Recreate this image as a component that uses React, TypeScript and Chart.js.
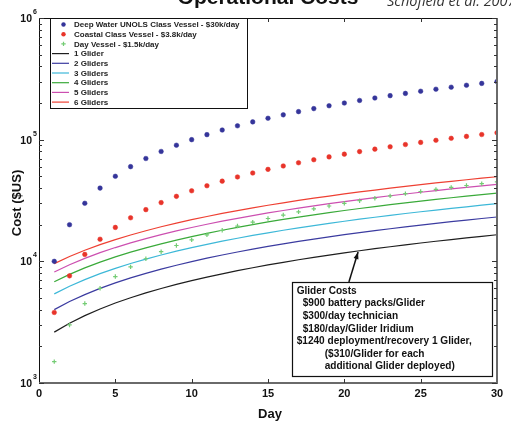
import React, { useEffect, useRef } from "react";
import { Chart, registerables } from "chart.js";
Chart.register(...registerables);

const days = [1, 2, 3, 4, 5, 6, 7, 8, 9, 10, 11, 12, 13, 14, 15, 16, 17, 18, 19, 20, 21, 22, 23, 24, 25, 26, 27, 28, 29, 30];
const deepWater = [10000, 20000, 30000, 40000, 50000, 60000, 70000, 80000, 90000, 100000, 110000, 120000, 130000, 140000, 150000, 160000, 170000, 180000, 190000, 200000, 210000, 220000, 230000, 240000, 250000, 260000, 270000, 280000, 290000, 300000];
const coastal = [3800, 7600, 11400, 15200, 19000, 22800, 26600, 30400, 34200, 38000, 41800, 45600, 49400, 53200, 57000, 60800, 64600, 68400, 72200, 76000, 79800, 83600, 87400, 91200, 95000, 98800, 102600, 106400, 110200, 114000];
const dayVessel = [1500, 3000, 4500, 6000, 7500, 9000, 10500, 12000, 13500, 15000, 16500, 18000, 19500, 21000, 22500, 24000, 25500, 27000, 28500, 30000, 31500, 33000, 34500, 36000, 37500, 39000, 40500, 42000, 43500, 45000];
const glider1 = [2620, 3100, 3580, 4060, 4540, 5020, 5500, 5980, 6460, 6940, 7420, 7900, 8380, 8860, 9340, 9820, 10300, 10780, 11260, 11740, 12220, 12700, 13180, 13660, 14140, 14620, 15100, 15580, 16060, 16540];
const glider2 = [4010, 4670, 5330, 5990, 6650, 7310, 7970, 8630, 9290, 9950, 10610, 11270, 11930, 12590, 13250, 13910, 14570, 15230, 15890, 16550, 17210, 17870, 18530, 19190, 19850, 20510, 21170, 21830, 22490, 23150];
const glider3 = [5400, 6240, 7080, 7920, 8760, 9600, 10440, 11280, 12120, 12960, 13800, 14640, 15480, 16320, 17160, 18000, 18840, 19680, 20520, 21360, 22200, 23040, 23880, 24720, 25560, 26400, 27240, 28080, 28920, 29760];
const glider4 = [6790, 7810, 8830, 9850, 10870, 11890, 12910, 13930, 14950, 15970, 16990, 18010, 19030, 20050, 21070, 22090, 23110, 24130, 25150, 26170, 27190, 28210, 29230, 30250, 31270, 32290, 33310, 34330, 35350, 36370];
const glider5 = [8180, 9380, 10580, 11780, 12980, 14180, 15380, 16580, 17780, 18980, 20180, 21380, 22580, 23780, 24980, 26180, 27380, 28580, 29780, 30980, 32180, 33380, 34580, 35780, 36980, 38180, 39380, 40580, 41780, 42980];
const glider6 = [9570, 10950, 12330, 13710, 15090, 16470, 17850, 19230, 20610, 21990, 23370, 24750, 26130, 27510, 28890, 30270, 31650, 33030, 34410, 35790, 37170, 38550, 39930, 41310, 42690, 44070, 45450, 46830, 48210, 49590];

const pointLabels = ["Deep Water UNOLS Class Vessel - $30k/day", "Coastal Class Vessel - $3.8k/day", "Day Vessel - $1.5k/day"];
const lineLabels = ["1 Glider", "2 Gliders", "3 Gliders", "4 Gliders", "5 Gliders", "6 Gliders"];
const xTicks = [0, 5, 10, 15, 20, 25, 30];
const yExponents = [3, 4, 5, 6];
const noteLines: [number, string][] = [
  [0, "Glider Costs"],
  [6, "$900 battery packs/Glider"],
  [6, "$300/day technician"],
  [6, "$180/day/Glider Iridium"],
  [0, "$1240 deployment/recovery 1 Glider,"],
  [28, "($310/Glider for each"],
  [28, "additional Glider deployed)"],
];

const pointColors = ["#35359a", "#e8342a", "#74cc74"];
const lineColors = ["#1e1e1e", "#3b3ba0", "#3db8d8", "#3aaa3a", "#cc4fb0", "#ee4033"];

const FONT = '"Liberation Sans", Arial, sans-serif';

const decor = {
  id: "decor",
  afterDatasetsDraw(chart: any) {
    const { ctx, chartArea: a, scales } = chart;
    const x = scales.x, y = scales.y;
    ctx.save();
    // frame
    ctx.lineWidth = 1;
    ctx.strokeStyle = "#111";
    ctx.beginPath();
    ctx.moveTo(a.left + 0.5, a.bottom);
    ctx.lineTo(a.left + 0.5, a.top + 0.5);
    ctx.lineTo(a.right, a.top + 0.5);
    ctx.stroke();
    ctx.strokeStyle = "#6a6a6a";
    ctx.lineWidth = 2;
    ctx.beginPath();
    ctx.moveTo(a.left, a.bottom);
    ctx.lineTo(a.right, a.bottom);
    ctx.lineTo(a.right, a.top);
    ctx.stroke();

    // x ticks
    ctx.lineWidth = 1;
    ctx.strokeStyle = "#333";
    ctx.fillStyle = "#111";
    ctx.font = `bold 11px ${FONT}`;
    ctx.textAlign = "center";
    ctx.textBaseline = "middle";
    for (const t of xTicks) {
      const px = Math.round(x.getPixelForValue(t)) + 0.5;
      if (t !== 0 && t !== 30) {
        ctx.beginPath();
        ctx.moveTo(px, a.bottom);
        ctx.lineTo(px, a.bottom - 4);
        ctx.moveTo(px, a.top);
        ctx.lineTo(px, a.top + 4);
        ctx.stroke();
      }
      ctx.fillText(String(t), x.getPixelForValue(t), a.bottom + 11);
    }
    // y ticks
    for (let e = 3; e <= 6; e++) {
      for (let m = 1; m <= 9; m++) {
        if (e === 6 && m > 1) break;
        const py = Math.round(y.getPixelForValue(m * Math.pow(10, e))) + 0.5;
        const len = m === 1 ? 5 : 3;
        ctx.beginPath();
        ctx.moveTo(a.left, py);
        ctx.lineTo(a.left + len, py);
        ctx.moveTo(a.right, py);
        ctx.lineTo(a.right - len, py);
        ctx.stroke();
      }
    }
    for (const e of yExponents) {
      const py = y.getPixelForValue(Math.pow(10, e));
      ctx.font = `bold 10.5px ${FONT}`;
      ctx.textAlign = "right";
      ctx.textBaseline = "middle";
      ctx.fillText("10", a.left - 7, py + 1);
      ctx.font = `bold 7px ${FONT}`;
      ctx.textAlign = "left";
      ctx.fillText(String(e), a.left - 6, py - 6);
    }
    // axis titles
    ctx.font = `bold 13px ${FONT}`;
    ctx.textAlign = "center";
    ctx.textBaseline = "middle";
    ctx.fillText("Day", (a.left + a.right) / 2 + 2, a.bottom + 31);
    ctx.save();
    ctx.translate(17, 203);
    ctx.rotate(-Math.PI / 2);
    ctx.fillText("Cost ($US)", 0, 0);
    ctx.restore();

    // title and citation
    ctx.font = `bold 21px ${FONT}`;
    ctx.textAlign = "center";
    ctx.textBaseline = "alphabetic";
    ctx.fillText("Operational Costs", (a.left + a.right) / 2, 4);
    ctx.font = `italic 14.5px "Open Sans", ${FONT}`;
    ctx.textAlign = "left";
    ctx.fillStyle = "#333";
    ctx.fillText("Schofield et al. 2007", 387, 6);

    // legend
    const lx = 50.5, ly = a.top + 0.5, lw = 197, lh = 90;
    ctx.fillStyle = "#fff";
    ctx.fillRect(lx, ly, lw, lh);
    ctx.strokeStyle = "#111";
    ctx.lineWidth = 1;
    ctx.strokeRect(lx, ly, lw, lh);
    ctx.font = `bold 8px ${FONT}`;
    ctx.textAlign = "left";
    ctx.textBaseline = "middle";
    const rowY = (i: number) => ly + 6 + i * 9.7;
    pointLabels.forEach((lab, i) => {
      const cy = rowY(i);
      ctx.fillStyle = pointColors[i];
      if (i < 2) {
        ctx.beginPath();
        ctx.arc(63.5, cy, 2.2, 0, Math.PI * 2);
        ctx.fill();
      } else {
        ctx.strokeStyle = pointColors[i];
        ctx.lineWidth = 1.2;
        ctx.beginPath();
        ctx.moveTo(61.3, cy); ctx.lineTo(65.7, cy);
        ctx.moveTo(63.5, cy - 2.2); ctx.lineTo(63.5, cy + 2.2);
        ctx.stroke();
      }
      ctx.fillStyle = "#222";
      ctx.fillText(lab, 74, cy + 0.5);
    });
    lineLabels.forEach((lab, j) => {
      const cy = rowY(j + 3);
      ctx.strokeStyle = lineColors[j];
      ctx.lineWidth = 1.2;
      ctx.beginPath();
      ctx.moveTo(52, cy); ctx.lineTo(69, cy);
      ctx.stroke();
      ctx.fillStyle = "#222";
      ctx.fillText(lab, 74, cy + 0.5);
    });

    // note box
    const bx = x.getPixelForValue(16.55), bx2 = x.getPixelForValue(29.65);
    const by = y.getPixelForValue(6760), by2 = y.getPixelForValue(1140);
    // arrow
    const tx = x.getPixelForValue(20.3), ty = by;
    const hx = x.getPixelForValue(20.9), hy = y.getPixelForValue(11940);
    ctx.strokeStyle = "#111";
    ctx.fillStyle = "#111";
    ctx.lineWidth = 1.5;
    ctx.beginPath();
    ctx.moveTo(tx, ty);
    ctx.lineTo(hx, hy);
    ctx.stroke();
    const ang = Math.atan2(hy - ty, hx - tx);
    ctx.beginPath();
    ctx.moveTo(hx, hy);
    ctx.lineTo(hx - 7 * Math.cos(ang) + 2.5 * Math.sin(ang), hy - 7 * Math.sin(ang) - 2.5 * Math.cos(ang));
    ctx.lineTo(hx - 7 * Math.cos(ang) - 2.5 * Math.sin(ang), hy - 7 * Math.sin(ang) + 2.5 * Math.cos(ang));
    ctx.closePath();
    ctx.fill();

    ctx.fillStyle = "#fff";
    ctx.fillRect(bx, by, bx2 - bx, by2 - by);
    ctx.strokeStyle = "#111";
    ctx.lineWidth = 1.2;
    ctx.strokeRect(Math.round(bx) + 0.5, Math.round(by) + 0.5, Math.round(bx2 - bx), Math.round(by2 - by));
    ctx.fillStyle = "#111";
    ctx.font = `bold 10.1px ${FONT}`;
    ctx.textAlign = "left";
    ctx.textBaseline = "middle";
    noteLines.forEach(([ind, txt], i) => {
      ctx.fillText(txt, bx + 5 + ind, by + 9 + i * 12.6);
    });
    ctx.restore();
  },
};

export default function App() {
  const ref = useRef<HTMLCanvasElement>(null);
  useEffect(() => {
    document.body.style.margin = "0";
    const pts = (vals: number[]) => days.map((d, i) => ({ x: d, y: vals[i] }));
    const pointSets = [deepWater, coastal, dayVessel].map((vals, i) => ({
      label: pointLabels[i],
      data: pts(vals),
      showLine: false,
      pointStyle: i < 2 ? "circle" : "cross",
      pointRadius: i < 2 ? 2.3 : 2.2,
      pointBorderWidth: i < 2 ? 0.5 : 1.2,
      pointBackgroundColor: pointColors[i],
      pointBorderColor: pointColors[i],
      borderColor: pointColors[i],
      backgroundColor: pointColors[i],
    }));
    const lineSets = [glider1, glider2, glider3, glider4, glider5, glider6].map((vals, j) => ({
      label: lineLabels[j],
      data: pts(vals),
      showLine: true,
      borderColor: lineColors[j],
      borderWidth: 1.2,
      pointRadius: 0,
      tension: 0,
      fill: false,
    }));
    const chart = new Chart(ref.current!, {
      type: "line",
      data: { datasets: [...pointSets, ...lineSets] as any },
      options: {
        animation: false,
        responsive: false,
        devicePixelRatio: 1,
        events: [],
        layout: { padding: { left: 39, top: 18, right: 14, bottom: 40 } },
        scales: {
          x: { type: "linear", min: 0, max: 30, display: false },
          y: { type: "logarithmic", min: 1000, max: 1000000, display: false },
        },
        plugins: { legend: { display: false }, tooltip: { enabled: false } },
      },
      plugins: [decor],
    });
    return () => chart.destroy();
  }, []);
  return (
    <div style={{ position: "absolute", left: 0, top: 0, width: 511, height: 423, background: "#fff" }}>
      <canvas ref={ref} width={511} height={423} style={{ display: "block" }} />
    </div>
  );
}
